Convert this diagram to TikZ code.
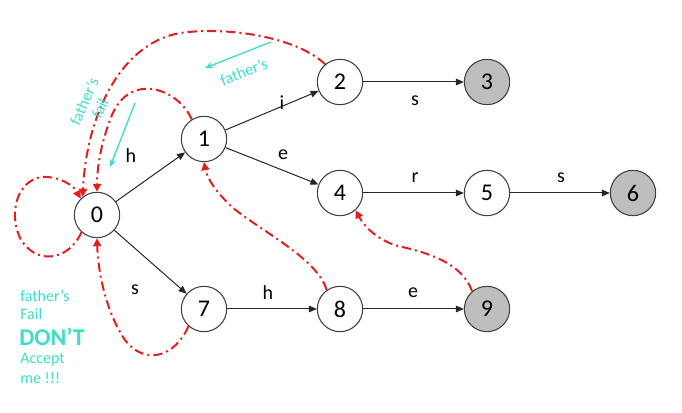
\documentclass[tikz,border=0pt]{standalone}
\usepackage{fontspec}
\setmainfont{Carlito}
\usetikzlibrary{arrows.meta}
\definecolor{failred}{RGB}{228,30,30}
\definecolor{cyanann}{RGB}{60,222,200}
\definecolor{finalgray}{RGB}{190,190,190}
\tikzset{
  state/.style={circle, draw=black!75, line width=0.8pt, minimum size=34pt, inner sep=0pt, fill=white, font=\fontsize{18}{20}\selectfont},
  final/.style={state, fill=finalgray},
  trans/.style={draw=black!85, line width=0.75pt, -{Triangle[length=6pt,width=5pt]}},
  elabel/.style={font=\fontsize{15}{17}\selectfont, inner sep=1pt},
  fail/.style={draw=failred, line width=1.5pt, dash pattern=on 7pt off 3pt on 1.5pt off 3pt, -{Triangle[length=6pt,width=6pt]}},
  ann/.style={draw=cyanann, line width=1pt, -{Stealth[length=6pt,width=5pt]}},
  anntext/.style={text=cyanann, font=\fontsize{12}{13}\selectfont, inner sep=0pt, align=center}
}
\begin{document}
\begin{tikzpicture}[x=0.75pt,y=-0.75pt]
\useasboundingbox (0,0) rectangle (682,413);

\node[state] (n0) at (97,215) {0};
\node[state] (n1) at (204,139) {1};
\node[state] (n2) at (340,82) {2};
\node[final] (n3) at (487,82) {3};
\node[state] (n4) at (340,193) {4};
\node[state] (n5) at (487,193) {5};
\node[final] (n6) at (633,193) {6};
\node[state] (n7) at (204,309) {7};
\node[state] (n8) at (340,309) {8};
\node[final] (n9) at (487,309) {9};

\draw[trans] (n0) -- (n1);
\draw[trans] (n1) -- (n2);
\draw[trans] (n2) -- (n3);
\draw[trans] (n1) -- (n4);
\draw[trans] (n4) -- (n5);
\draw[trans] (n5) -- (n6);
\draw[trans] (n0) -- (n7);
\draw[trans] (n7) -- (n8);
\draw[trans] (n8) -- (n9);

\node[elabel] (lh1) at (131,156) {h};
\node[elabel] (li) at (282,103) {i};
\node[elabel] (le1) at (283,155) {e};
\node[elabel] (ls1) at (135,290) {s};
\node[elabel] (ls2) at (415,101) {s};
\node[elabel] (lr) at (415,178) {r};
\node[elabel] (ls3) at (561,178) {s};
\node[elabel] (lh2) at (268,293) {h};
\node[elabel] (le2) at (413,293) {e};

% failure links
\draw[fail] (n0.228) .. controls (68,262) and (35,265) .. (20,238)
  .. controls (8,212) and (18,180) .. (42,177)
  .. controls (60,176) and (74,186) .. (n0.135);
\draw[fail] (n1.122) .. controls (178,88) and (130,72) .. (112,115)
  .. controls (101,142) and (97,168) .. (n0.north);
\draw[fail] (n2.130) .. controls (298,38) and (230,26) .. (180,33)
  .. controls (118,44) and (86,120) .. (n0.128);
\draw[fail] (n7.228) .. controls (175,357) and (145,366) .. (125,340)
  .. controls (106,312) and (98,272) .. (n0.south);
\draw[fail] (n8.125) .. controls (317,258) and (262,232) .. (232,207)
  .. controls (216,192) and (207,178) .. (n1.south);
\draw[fail] (n9.130) .. controls (462,262) and (425,252) .. (398,246)
  .. controls (377,240) and (364,226) .. (n4.-48);

% annotations
\coordinate (a1s) at (271,42);
\coordinate (a1e) at (205,68);
\draw[ann] (a1s) -- (a1e);
\node[anntext, rotate=22] (t1) at (244,72) {father's};
\coordinate (a2s) at (135,103);
\coordinate (a2e) at (110,167);
\draw[ann] (a2s) -- (a2e);
\node[anntext, rotate=66] (t2) at (92,105) {father's\\fail};

\node[anntext, anchor=west] (b1) at (20,296) {father's};
\node[anntext, anchor=west] (b2) at (20,314) {Fail};
\node[anntext, anchor=west, font=\bfseries\fontsize{18}{20}\selectfont] (b3) at (19,337) {DON'T};
\node[anntext, anchor=west] (b4) at (20,360) {Accept};
\node[anntext, anchor=west] (b5) at (20,378) {me !!!};
\end{tikzpicture}
\end{document}
